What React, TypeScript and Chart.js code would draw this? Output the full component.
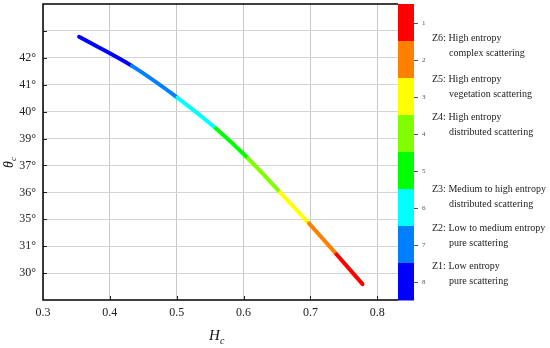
import React, { useEffect, useRef } from "react";
import { Chart, registerables } from "chart.js";
Chart.register(...registerables);

// Data
const hValues = [0.354, 0.433, 0.501, 0.559, 0.607, 0.655, 0.698, 0.739, 0.778];
const thetaPos = [9.78, 8.70, 7.52, 6.37, 5.26, 4.0, 2.85, 1.70, 0.59];
const segmentColors = ["#0000FF", "#0080FF", "#00FFFF", "#00FF00", "#80FF00", "#FFFF00", "#FF8000", "#FF0000"];
const xTicks = [0.3, 0.4, 0.5, 0.6, 0.7, 0.8];
const yTickPos = [1, 2, 3, 4, 5, 6, 7, 8, 9, 10];
const yTickLabels = ["30°", "31°", "35°", "36°", "37°", "39°", "40°", "41°", "42°", ""];
const colorbarColors = ["#FF0000", "#FF8000", "#FFFF00", "#80FF00", "#00FF00", "#00FFFF", "#0080FF", "#0000FF"];
const colorbarLabels = ["1", "2", "3", "4", "5", "6", "7", "8"];
const zoneTexts = [
  ["Z6: High entropy", "complex scattering"],
  ["Z5: High entropy", "vegetation scattering"],
  ["Z4: High entropy", "distributed scattering"],
  ["Z3: Medium to high entropy", "distributed scattering"],
  ["Z2: Low to medium entropy", "pure scattering"],
  ["Z1: Low entropy", "pure scattering"],
];
const zoneTextY = [38, 79, 117, 189, 228, 266];

const SERIF = "'Liberation Serif', 'DejaVu Serif', serif";

export default function App() {
  const ref = useRef<HTMLCanvasElement | null>(null);
  useEffect(() => {
    document.body.style.margin = "0";
    const canvas = ref.current!;
    const deco = {
      id: "deco",
      beforeDatasetsDraw(chart: any) {
        const { ctx, chartArea: a } = chart;
        const xs = chart.scales.x, ys = chart.scales.y;
        ctx.save();
        ctx.strokeStyle = "#222";
        ctx.lineWidth = 1;
        ctx.beginPath();
        xTicks.slice(1).forEach((v) => {
          const px = Math.round(xs.getPixelForValue(v)) + 0.5;
          ctx.moveTo(px, a.bottom);
          ctx.lineTo(px, a.bottom - 4);
        });
        yTickPos.forEach((v) => {
          const py = Math.round(ys.getPixelForValue(v)) + 0.5;
          ctx.moveTo(a.left, py);
          ctx.lineTo(a.left + 4, py);
        });
        ctx.stroke();
        ctx.restore();
      },
      afterDraw(chart: any) {
        const { ctx, chartArea: a } = chart;
        ctx.save();
        // frame
        ctx.strokeStyle = "#000";
        ctx.lineWidth = 1.5;
        ctx.beginPath();
        ctx.moveTo(a.right, a.top);
        ctx.lineTo(a.left, a.top);
        ctx.lineTo(a.left, a.bottom);
        ctx.lineTo(a.right, a.bottom);
        ctx.stroke();
        // colorbar
        const cbL = a.right, cbW = 16;
        const binH = (a.bottom - a.top) / colorbarColors.length;
        colorbarColors.forEach((c, i) => {
          ctx.fillStyle = c;
          ctx.fillRect(cbL, a.top + i * binH, cbW, binH + 0.5);
        });
        ctx.strokeStyle = "#555";
        ctx.lineWidth = 1;
        ctx.fillStyle = "#555";
        ctx.font = `7px ${SERIF}`;
        ctx.textBaseline = "middle";
        ctx.textAlign = "left";
        colorbarLabels.forEach((l, i) => {
          const cy = Math.round(a.top + (i + 0.5) * binH) + 0.5;
          ctx.beginPath();
          ctx.moveTo(cbL + cbW, cy);
          ctx.lineTo(cbL + cbW + 4, cy);
          ctx.stroke();
          ctx.fillText(l, cbL + cbW + 8, cy);
        });
        // zone texts
        ctx.fillStyle = "#222";
        ctx.font = `10px ${SERIF}`;
        zoneTexts.forEach((t, i) => {
          ctx.fillText(t[0], 432, zoneTextY[i]);
          ctx.fillText(t[1], 449, zoneTextY[i] + 15);
        });
        // axis titles
        ctx.fillStyle = "#111";
        ctx.font = `italic 15px ${SERIF}`;
        ctx.textAlign = "left";
        ctx.textBaseline = "alphabetic";
        ctx.fillText("H", 209, 340);
        ctx.font = `italic 10px ${SERIF}`;
        ctx.fillText("c", 220, 344);
        ctx.translate(13, 160);
        ctx.rotate(-Math.PI / 2);
        ctx.font = `italic 14px ${SERIF}`;
        ctx.fillText("θ", -8, 0);
        ctx.font = `italic 9px ${SERIF}`;
        ctx.fillText("c", -1, 3);
        ctx.restore();
      },
    };
    const chart = new Chart(canvas, {
      type: "line",
      data: {
        datasets: [
          {
            data: hValues.map((h, i) => ({ x: h, y: thetaPos[i] })),
            borderWidth: 4,
            borderCapStyle: "round",
            borderJoinStyle: "round",
            pointRadius: 0,
            cubicInterpolationMode: "monotone",
            segment: { borderColor: (c: any) => segmentColors[c.p0DataIndex] },
          },
        ],
      },
      options: {
        animation: false,
        responsive: false,
        layout: { padding: { top: 4, right: 152, left: 0, bottom: 0 } },
        plugins: { legend: { display: false }, tooltip: { enabled: false } },
        scales: {
          x: {
            type: "linear",
            min: 0.3,
            max: 0.831,
            afterBuildTicks: (s: any) => { s.ticks = xTicks.map((v) => ({ value: v })); },
            afterFit: (s: any) => { s.height = 48; s.paddingLeft = 0; s.paddingRight = 0; },
            border: { display: false },
            grid: { color: "#c8c8c8", tickLength: 0 },
            ticks: {
              padding: 6,
              color: "#222",
              font: { family: SERIF, size: 12 },
              callback: (v: any) => Number(v).toFixed(1),
              maxRotation: 0,
            },
          },
          y: {
            type: "linear",
            min: 0,
            max: 11,
            afterBuildTicks: (s: any) => { s.ticks = yTickPos.map((v) => ({ value: v })); },
            afterFit: (s: any) => { s.width = 43; s.paddingTop = 0; s.paddingBottom = 0; },
            border: { display: false },
            grid: { color: "#d4d4d4", tickLength: 0 },
            ticks: {
              padding: 7,
              color: "#222",
              font: { family: SERIF, size: 12 },
              callback: (v: any) => yTickLabels[yTickPos.indexOf(Number(v))] ?? "",
            },
          },
        },
      },
      plugins: [deco],
    });
    return () => chart.destroy();
  }, []);
  return (
    <div style={{ width: 550, height: 348 }}>
      <canvas ref={ref} width={550} height={348} style={{ width: 550, height: 348, display: "block" }} />
    </div>
  );
}
